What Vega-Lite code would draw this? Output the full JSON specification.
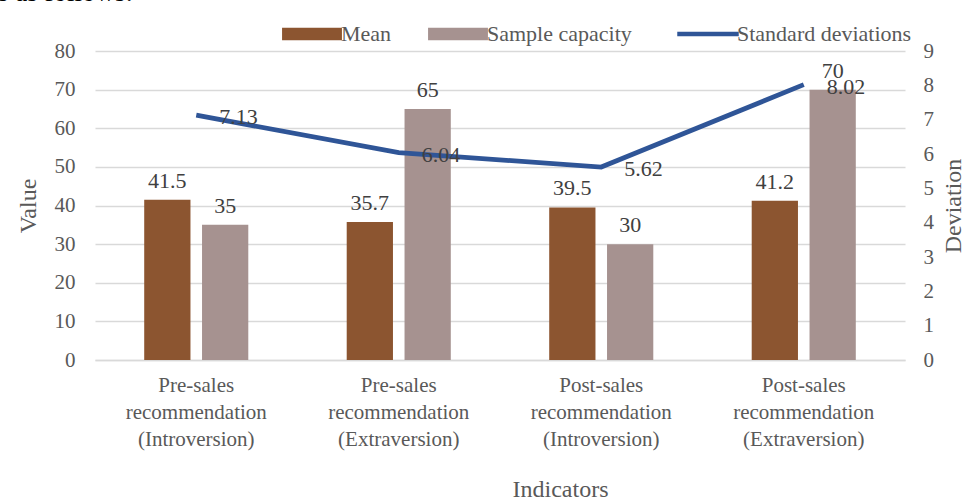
{
  "$schema": "https://vega.github.io/schema/vega-lite/v6.json",
  "width": 810,
  "height": 309,
  "autosize": {"type": "none"},
  "padding": {"left": 95, "top": 51, "right": 60, "bottom": 142},
  "background": "white",
  "title": {"text": "s as follows:", "anchor": "start", "frame": "group", "font": "Liberation Serif", "fontSize": 27, "fontWeight": "normal", "color": "#000000", "baseline": "alphabetic", "dx": -97, "dy": 5, "offset": 0},
  "config": {
    "font": "Liberation Serif",
    "view": {"stroke": null},
    "axis": {
      "labelFont": "Liberation Serif",
      "titleFont": "Liberation Serif",
      "labelColor": "#595959",
      "titleColor": "#595959",
      "labelFontSize": 21,
      "titleFontSize": 24,
      "titleFontWeight": "normal",
      "gridColor": "#D9D9D9",
      "gridWidth": 1.5,
      "ticks": false,
      "domain": false
    }
  },
  "layer": [
    {
      "data": {"values": [
        {"cat": "Pre-sales recommendation (Introversion)", "series": "Mean", "value": 41.5},
        {"cat": "Pre-sales recommendation (Introversion)", "series": "Sample capacity", "value": 35},
        {"cat": "Pre-sales recommendation (Extraversion)", "series": "Mean", "value": 35.7},
        {"cat": "Pre-sales recommendation (Extraversion)", "series": "Sample capacity", "value": 65},
        {"cat": "Post-sales recommendation (Introversion)", "series": "Mean", "value": 39.5},
        {"cat": "Post-sales recommendation (Introversion)", "series": "Sample capacity", "value": 30},
        {"cat": "Post-sales recommendation (Extraversion)", "series": "Mean", "value": 41.2},
        {"cat": "Post-sales recommendation (Extraversion)", "series": "Sample capacity", "value": 70}
      ]},
      "encoding": {
        "x": {
          "field": "cat", "type": "nominal",
          "sort": ["Pre-sales recommendation (Introversion)", "Pre-sales recommendation (Extraversion)", "Post-sales recommendation (Introversion)", "Post-sales recommendation (Extraversion)"],
          "scale": {"paddingInner": 0.486, "paddingOuter": 0.243},
          "axis": {"title": "Indicators", "titleX": 465, "labelAngle": 0, "labelExpr": "split(datum.label, ' ')", "labelLineHeight": 27, "labelPadding": 14, "titlePadding": 28, "domain": true, "domainColor": "#D9D9D9", "domainWidth": 1.5, "labelBaseline": "top"}
        },
        "xOffset": {"field": "series", "sort": ["Mean", "Sample capacity"], "scale": {"paddingInner": 0.2}},
        "y": {
          "field": "value", "type": "quantitative",
          "scale": {"domain": [0, 80]},
          "axis": {"title": "Value", "values": [0, 10, 20, 30, 40, 50, 60, 70, 80], "labelPadding": 20, "titlePadding": 14}
        }
      },
      "layer": [
        {
          "mark": {"type": "bar"},
          "encoding": {
            "color": {
              "field": "series", "type": "nominal",
              "scale": {"domain": ["Mean", "Sample capacity", "Standard deviations"], "range": ["#8C5530", "#A69290", "#2F5597"]},
              "legend": {
                "orient": "none", "legendX": 206, "legendY": -28, "direction": "horizontal", "title": null,
                "labelFont": "Liberation Serif", "labelFontSize": 22, "labelColor": "#595959", "labelLimit": 400,
                "symbolSize": 2809, "columnPadding": 36, "labelOffset": 18,
                "encode": {"symbols": {"update": {
                  "shape": {"signal": "datum.value === 'Standard deviations' ? 'M-1.16,0H1.16' : 'M-1.13,-0.24H1.13V0.24H-1.13Z'"},
                  "strokeWidth": {"signal": "datum.value === 'Standard deviations' ? 4.5 : 0"},
                  "stroke": {"signal": "scale('color', datum.value)"},
                  "fill": {"signal": "datum.value === 'Standard deviations' ? 'transparent' : scale('color', datum.value)"},
                  "opacity": {"value": 1}
                }}}
              }
            }
          }
        },
        {
          "mark": {"type": "text", "baseline": "bottom", "dy": -7, "fontSize": 22, "color": "#404040", "font": "Liberation Serif"},
          "encoding": {"text": {"field": "value", "type": "quantitative"}}
        }
      ]
    },
    {
      "data": {"values": [
        {"cat": "Pre-sales recommendation (Introversion)", "sd": 7.13},
        {"cat": "Pre-sales recommendation (Extraversion)", "sd": 6.04},
        {"cat": "Post-sales recommendation (Introversion)", "sd": 5.62},
        {"cat": "Post-sales recommendation (Extraversion)", "sd": 8.02}
      ]},
      "encoding": {
        "x": {"field": "cat", "type": "nominal", "sort": ["Pre-sales recommendation (Introversion)", "Pre-sales recommendation (Extraversion)", "Post-sales recommendation (Introversion)", "Post-sales recommendation (Extraversion)"]},
        "y": {
          "field": "sd", "type": "quantitative",
          "scale": {"domain": [0, 9]},
          "axis": {"title": "Deviation", "orient": "right", "values": [0, 1, 2, 3, 4, 5, 6, 7, 8, 9], "grid": false, "labelPadding": 18, "titleAngle": 270, "titleX": 48, "titleY": 154.5, "titleAlign": "center", "titleBaseline": "middle"}
        }
      },
      "layer": [
        {
          "mark": {"type": "line", "strokeWidth": 4.8},
          "encoding": {"color": {"datum": "Standard deviations", "type": "nominal"}}
        },
        {
          "mark": {"type": "text", "align": "left", "baseline": "middle", "dx": 23, "dy": 2, "fontSize": 22, "color": "#404040", "font": "Liberation Serif"},
          "encoding": {"text": {"field": "sd", "type": "quantitative", "format": ".2f"}}
        }
      ]
    }
  ],
  "resolve": {"scale": {"y": "independent"}}
}
